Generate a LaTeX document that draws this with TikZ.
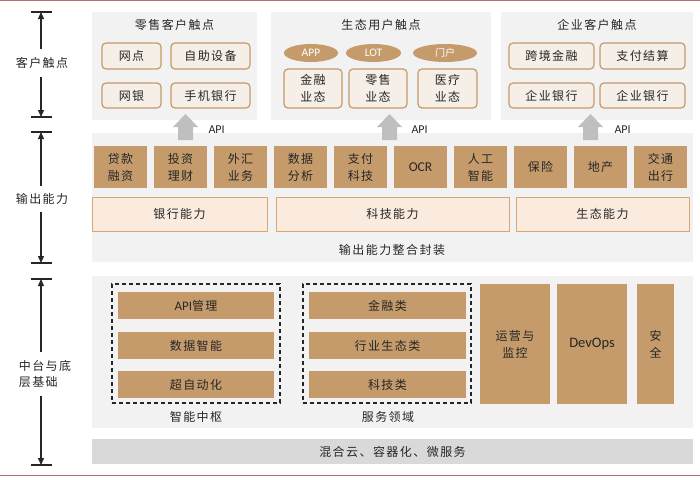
\documentclass[tikz,border=0pt]{standalone}
\usepackage{fontspec}
\setmainfont[LetterSpace=12]{Noto Sans CJK SC}
\newfontfamily\lat{Carlito}
\usetikzlibrary{arrows.meta,shapes.geometric}
\definecolor{panelgray}{HTML}{F2F2F2}
\definecolor{tan}{HTML}{C59B6B}
\definecolor{tanline}{HTML}{C49A6A}
\definecolor{cream}{HTML}{F6EFE7}
\definecolor{peach}{HTML}{FBEBDF}
\definecolor{peachline}{HTML}{D7A77A}
\definecolor{arrowgray}{HTML}{BFBFBF}
\definecolor{bargray}{HTML}{D9D9D9}
\definecolor{maroon}{HTML}{B57070}
\definecolor{txt}{HTML}{262626}
\newcommand\mybox[7]{%
  \pgfmathsetmacro\mbw{#5-#3}\pgfmathsetmacro\mbh{#6-#4}%
  \pgfmathsetmacro\mbx{(#3+#5)/2}\pgfmathsetmacro\mby{(#4+#6)/2}%
  \node[#1, minimum width=\mbw pt, minimum height=\mbh pt, inner sep=0pt] (#2) at (\mbx,\mby) {#7};}
\newcommand\apiarrow[3]{%
  \fill[arrowgray] (#1-7.5,140) -- (#1-7.5,127) -- (#1-12.5,127) -- (#1,114) -- (#1+12.5,127) -- (#1+7.5,127) -- (#1+7.5,140) -- cycle;
  \node[anchor=west, font=\lat\fontsize{12}{12}\selectfont, text=txt] (#2) at (#3,130) {API};}
\begin{document}
\begin{tikzpicture}[x=1pt,y=-1pt,
  every node/.style={text=txt, font=\fontsize{12}{17}\selectfont, align=center},
  panel/.style={fill=panelgray, draw=none},
  rbox/.style={draw=tanline, line width=1.2pt, fill=cream, rounded corners=4pt},
  tbox/.style={fill=tan, draw=none},
  gbar/.style={fill=bargray, draw=none},
  pbox/.style={fill=peach, draw=peachline, line width=1pt},
  ell/.style={ellipse, fill=tan, draw=none, text=white, inner sep=0pt, font=\lat\fontsize{11.5}{12}\selectfont},
  dbox/.style={draw=black!85, line width=1.2pt, dash pattern=on 4pt off 3pt, fill=none},
  vbar/.style={line width=1.3pt, draw=black!85},
  varr/.style={line width=1.3pt, draw=black!85, -{Triangle[length=7pt,width=6pt]}},
  sidelbl/.style={inner xsep=0pt, font=\fontsize{12}{16}\selectfont},
]
\useasboundingbox (0,0) rectangle (700,479);
% frame lines
\draw[maroon, line width=1pt] (0,0.6) -- (700,0.6);
\draw[maroon, line width=1pt] (0,475) -- (700,475);

% ---------- top panels ----------
\mybox{panel}{pr}{92}{12}{257}{120}{}
\mybox{panel}{pe}{271}{12}{491}{120}{}
\mybox{panel}{pc}{501}{12}{693}{120}{}
\node (tr) at (174.5,25) {零售客户触点};
\node (te) at (381,25) {生态用户触点};
\node (tc) at (597,25) {企业客户触点};

\mybox{rbox}{r1}{102}{43}{161}{69}{网点}
\mybox{rbox}{r2}{171}{43}{250}{69}{自助设备}
\mybox{rbox}{r3}{102}{83}{161}{108}{网银}
\mybox{rbox}{r4}{171}{83}{250}{108}{手机银行}

\mybox{ell}{e1}{284}{44}{338}{62}{APP}
\mybox{ell}{e2}{346}{44}{401}{62}{LOT}
\mybox{ell}{e3}{413}{44}{477}{62}{\fontspec{Noto Sans CJK SC}\fontsize{10}{12}\selectfont 门户}
\mybox{rbox}{s1}{284}{69}{342}{108}{金融\\业态}
\mybox{rbox}{s2}{349}{69}{407}{108}{零售\\业态}
\mybox{rbox}{s3}{418}{69}{477}{108}{医疗\\业态}

\mybox{rbox}{c1}{509}{43}{594}{69}{跨境金融}
\mybox{rbox}{c2}{600}{43}{685}{69}{支付结算}
\mybox{rbox}{c3}{509}{83}{594}{108}{企业银行}
\mybox{rbox}{c4}{600}{83}{685}{108}{企业银行}

% ---------- middle panel ----------
\mybox{panel}{pm}{92}{133}{693}{262}{}
\apiarrow{185.5}{api1}{205}
\apiarrow{389.5}{api2}{408}
\apiarrow{590.5}{api3}{611}

\foreach \t [count=\i from 0] in {贷款\\融资,投资\\理财,外汇\\业务,数据\\分析,支付\\科技,{\lat\fontsize{13.5}{14}\selectfont OCR},人工\\智能,保险,地产,交通\\出行}{
  \pgfmathsetmacro\xl{94+60*\i}\pgfmathsetmacro\xr{147+60*\i}
  \mybox{tbox}{m\i}{\xl}{146}{\xr}{188}{\t}
}
\mybox{pbox}{cap1}{92}{197}{267}{231}{银行能力}
\mybox{pbox}{cap2}{276}{197}{509}{231}{科技能力}
\mybox{pbox}{cap3}{516}{197}{689}{231}{生态能力}
\node (pack) at (392,250) {输出能力整合封装};

% ---------- bottom panel ----------
\mybox{panel}{pb}{92}{276}{693}{428}{}
\mybox{dbox}{d1}{112}{284}{280}{403}{}
\mybox{dbox}{d2}{303}{284}{471}{403}{}
\mybox{tbox}{b1}{118}{292}{274}{319}{{\lat\fontsize{13}{14}\selectfont API}管理}
\mybox{tbox}{b2}{118}{332}{274}{359}{数据智能}
\mybox{tbox}{b3}{118}{371}{274}{398}{超自动化}
\mybox{tbox}{f1}{309}{292}{466}{319}{金融类}
\mybox{tbox}{f2}{309}{332}{466}{359}{行业生态类}
\mybox{tbox}{f3}{309}{371}{466}{398}{科技类}
\node (zn) at (196,417) {智能中枢};
\node (fw) at (388,417) {服务领域};
\mybox{tbox}{ops}{480}{284}{550}{404}{运营与\\监控}
\mybox{tbox}{dev}{557}{284}{627}{404}{{\lat\fontsize{14.5}{16}\selectfont DevOps}}
\mybox{tbox}{sec}{637}{284}{674}{404}{安\\全}
\mybox{gbar}{cloud}{92}{439}{693}{464}{混合云、容器化、微服务}

% ---------- left scale ----------
\coordinate (t1) at (41,12);  \coordinate (u1) at (41,117);
\coordinate (t2) at (41,132); \coordinate (u2) at (41,263);
\coordinate (t3) at (41,279); \coordinate (u3) at (41,465);
\node[sidelbl, inner ysep=8pt] (l1) at (42,63) {客户触点};
\node[sidelbl, inner ysep=7pt] (l2) at (42,199) {输出能力};
\node[sidelbl, inner ysep=8pt, align=left] (l3) at (45,374) {中台与底\\层基础};
\foreach \k in {1,2,3}{
  \draw[vbar] ([xshift=-10.5pt]t\k) -- ([xshift=10.5pt]t\k);
  \draw[vbar] ([xshift=-10.5pt]u\k) -- ([xshift=10.5pt]u\k);
  \draw[varr] (t\k |- l\k.north) -- (t\k);
  \draw[varr] (u\k |- l\k.south) -- (u\k);
}
\end{tikzpicture}
\end{document}
